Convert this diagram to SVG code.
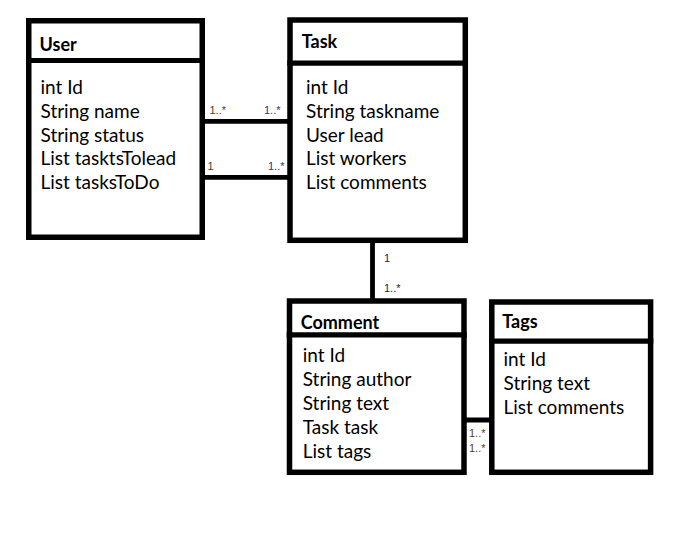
<svg xmlns="http://www.w3.org/2000/svg" width="683" height="544" viewBox="0 0 683 544">
<style>
.box{fill:#fff;stroke:#000;stroke-width:5.5}
.div{stroke:#000;stroke-width:5.2}
.title{font-family:"Lato","Liberation Sans",sans-serif;font-weight:bold;font-size:18px;fill:#000}
.attr{font-family:"Lato","Liberation Sans",sans-serif;font-size:19px;fill:#000}
.lbl{font-family:"Liberation Sans",sans-serif;font-size:11px}
.conn{stroke:#000;stroke-width:4.8;fill:none}
</style>
<rect width="683" height="544" fill="#fff"/>
<g id="connectors">
<line class="conn" x1="204" y1="121.3" x2="293" y2="121.3" stroke-linecap="round"/>
<line class="conn" x1="204" y1="177.3" x2="290" y2="177.3"/>
<line class="conn" x1="372.5" y1="241" x2="372.5" y2="300" stroke-width="5"/>
<line class="conn" x1="465" y1="420" x2="493" y2="420" stroke-linecap="round"/>
<text class="lbl" x="209.5" y="114" fill="#5a3c18">1..*</text>
<text class="lbl" x="264" y="114" fill="#23406a">1..*</text>
<text class="lbl" x="207.5" y="170" fill="#5a3c18">1</text>
<text class="lbl" x="268" y="170" fill="#23406a">1..*</text>
<text class="lbl" x="384" y="262" fill="#1a2438">1</text>
<text class="lbl" x="384" y="292" fill="#1a2438">1..*</text>
<text class="lbl" x="469" y="437" fill="#5a3c18">1..*</text>
<text class="lbl" x="469" y="452" fill="#5a3c18">1..*</text>
</g>
<g id="user">
<rect class="box" x="28.75" y="20.75" width="173.5" height="216.5"/>
<line class="div" x1="26" y1="60.5" x2="205" y2="60.5"/>
<text class="title" x="39.5" y="51">User</text>
<text class="attr" x="40.5" y="94">int Id</text>
<text class="attr" x="40.5" y="117.8">String name</text>
<text class="attr" x="40.5" y="141.5">String status</text>
<text class="attr" x="40.5" y="165.3">List tasktsTolead</text>
<text class="attr" x="40.5" y="189.2">List tasksToDo</text>
</g>
<g id="task">
<rect class="box" x="290" y="20" width="175.3" height="220.3"/>
<line class="div" x1="287.3" y1="63.2" x2="468" y2="63.2"/>
<text class="title" x="301.7" y="47.5">Task</text>
<text class="attr" x="306" y="94">int Id</text>
<text class="attr" x="306" y="117.8">String taskname</text>
<text class="attr" x="306" y="141.5">User lead</text>
<text class="attr" x="306" y="165.3">List workers</text>
<text class="attr" x="306" y="189.2">List comments</text>
</g>
<g id="comment">
<rect class="box" x="289.5" y="301" width="174.5" height="171.3"/>
<line class="div" x1="286.7" y1="334.8" x2="466.7" y2="334.8"/>
<text class="title" x="300.7" y="328.5">Comment</text>
<text class="attr" x="302.7" y="362.2">int Id</text>
<text class="attr" x="302.7" y="386.2">String author</text>
<text class="attr" x="302.7" y="410.2">String text</text>
<text class="attr" x="302.7" y="434.2">Task task</text>
<text class="attr" x="302.7" y="458.2">List tags</text>
</g>
<g id="tags">
<rect class="box" x="491.8" y="302" width="158.8" height="170.3"/>
<line class="div" x1="489" y1="341.2" x2="653.3" y2="341.2"/>
<text class="title" x="502.3" y="327.5">Tags</text>
<text class="attr" x="503.5" y="365.5">int Id</text>
<text class="attr" x="503.5" y="389.5">String text</text>
<text class="attr" x="503.5" y="413.5">List comments</text>
</g>
</svg>
